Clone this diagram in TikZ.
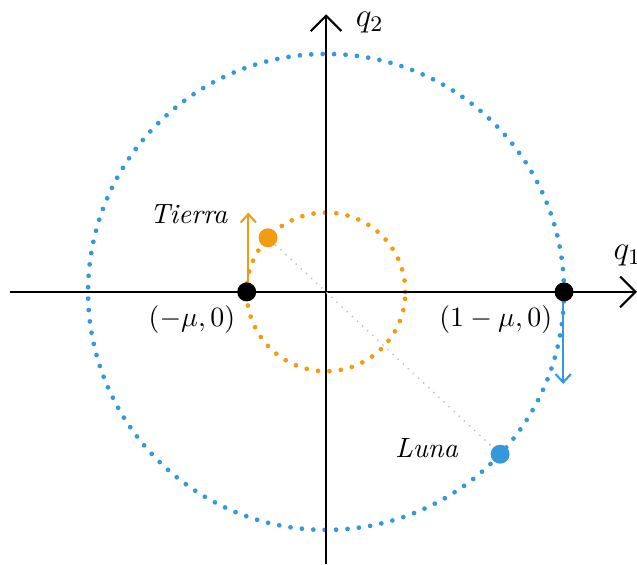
\documentclass[tikz,border=0pt]{standalone}
\usetikzlibrary{arrows.meta}
\definecolor{lunablue}{RGB}{52,152,219}
\definecolor{tierraorange}{RGB}{243,156,18}
\tikzset{
  bigdot/.style={circle, fill=#1, inner sep=0pt, minimum size=6.8pt},
  orbit/.style={#1, line width=1.7pt, line cap=round, dash pattern=on 0pt off 4.1pt},
  axisarrow/.style={-{Straight Barb[length=5.5pt, width=11pt]}, line width=0.75pt},
  velarrow/.style={-{Straight Barb[length=3pt, width=5.5pt]}, #1, line width=0.75pt}
}
\begin{document}
\begin{tikzpicture}
    \useasboundingbox (-4.11,-3.43) rectangle (3.92,3.68);

    % Draw orbits
    \draw[orbit=lunablue] (0,0) circle (3);
    \draw[orbit=tierraorange] (0,0) circle (1);

    % Draw axes
    \coordinate (xl) at (-3.99,0);
    \coordinate (xr) at (3.92,0);
    \coordinate (yb) at (0,-3.43);
    \coordinate (yt) at (0,3.5);
    \draw[axisarrow] (xl) -- (xr);
    \draw[axisarrow] (yb) -- (yt);
    \node[inner sep=0pt] (q1) at (3.8,0.46) {\large$q_1$};
    \node[inner sep=0pt] (q2) at (0.55,3.4) {\large$q_2$};

    % Bodies
    \node[bigdot=tierraorange] (tierra) at (137:1) {};
    \node[bigdot=lunablue] (luna) at (-43:3) {};
    \draw[gray!50, dotted, line width=0.5pt] (tierra) -- (luna);

    % Velocities
    \coordinate (vt) at (-0.98,1.0);
    \coordinate (vl) at (2.99,-1.16);
    \draw[velarrow=tierraorange] (-0.98,0) -- (vt);
    \draw[velarrow=lunablue] (2.99,0) -- (vl);

    % Equilibrium points
    \node[bigdot=black] (lm) at (-1,0) {};
    \node[bigdot=black] (lp) at (3,0) {};

    % Labels
    \node (tlabel) at (-1.73,0.98) {\textit{Tierra}};
    \node (llabel) at (1.27,-1.97) {\textit{Luna}};
    \node (lmlabel) at (-1.69,-0.35) {$(-\mu,0)$};
    \node (lplabel) at (2.14,-0.35) {$(1-\mu,0)$};
\end{tikzpicture}
\end{document}
